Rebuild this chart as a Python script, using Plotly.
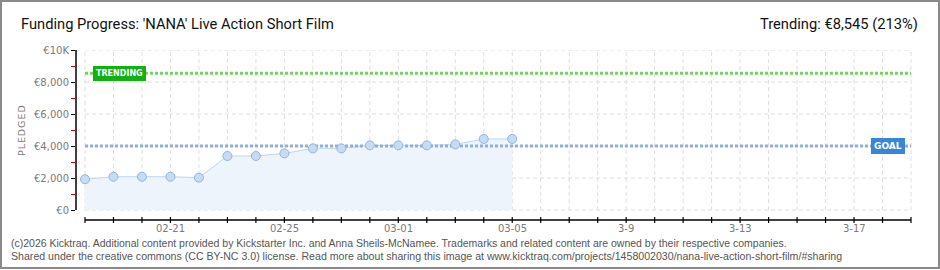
import pandas as pd
import plotly.graph_objects as go

# ---------------- data ----------------
dates = ["2026-02-18", "2026-02-19", "2026-02-20", "2026-02-21", "2026-02-22",
         "2026-02-23", "2026-02-24", "2026-02-25", "2026-02-26", "2026-02-27",
         "2026-02-28", "2026-03-01", "2026-03-02", "2026-03-03", "2026-03-04",
         "2026-03-05"]
pledged = [1920, 2080, 2080, 2080, 2020, 3375, 3375, 3540, 3850, 3850,
           4040, 4040, 4040, 4100, 4440, 4440]
goal = 4000
trending = 8545
trending_pct = 213
axis_start = "2026-02-18"
axis_end = "2026-03-19"
tick_dates = ["2026-02-21", "2026-02-25", "2026-03-01", "2026-03-05",
              "2026-03-09", "2026-03-13", "2026-03-17"]
tick_text = ["02-21", "02-25", "03-01", "03-05", "3-9", "3-13", "3-17"]
y_tickvals = [0, 2000, 4000, 6000, 8000, 10000]
y_ticktext = ["€0", "€2,000", "€4,000", "€6,000", "€8,000", "€10K"]
y_minor = [1000, 3000, 5000, 7000, 9000]
title = "Funding Progress: 'NANA' Live Action Short Film"
footer1 = ("(c)2026 Kicktraq. Additional content provided by Kickstarter Inc. and Anna Sheils-McNamee. "
           "Trademarks and related content are owned by their respective companies.")
footer2 = ("Shared under the creative commons (CC BY-NC 3.0) license. Read more about sharing this image at "
           "www.kicktraq.com/projects/1458002030/nana-live-action-short-film/#sharing")

# ---------------- layout geometry ----------------
W, H = 940, 270
L, R, T, B = 76, 915, 50, 224
PX_PER_UNIT = 160 / 10000          # 10K spans 160 px
Y_MAX = 10000
Y_MIN = -(B - T) / PX_PER_UNIT + Y_MAX
X_AXIS_Y = -10 / PX_PER_UNIT       # x axis line 10 px below zero


def xp(px):
    return (px - L) / (R - L)


def yp(py):
    return (B - py) / (B - T)


t0 = pd.Timestamp(axis_start)
t1 = pd.Timestamp(axis_end)
days_total = (t1 - t0).days
day_px = (911 - 85) / days_total
x_lo = t0 - pd.Timedelta(days=(85 - L) / day_px)
x_hi = t1 + pd.Timedelta(days=(R - 911) / day_px)
all_days = pd.date_range(t0, t1, freq="D")

GRID = "#dedede"
LABEL = "#7a7a7a"
TICKFONT = dict(family="DejaVu Sans", size=10, color=LABEL)

fig = go.Figure()

# area + line
fig.add_trace(go.Scatter(
    x=dates, y=pledged, mode="lines", fill="tozeroy",
    fillcolor="#edf4fc", line=dict(color="#bcd5f1", width=1),
    hoverinfo="skip", showlegend=False))

# goal & trending lines
fig.add_trace(go.Scatter(
    x=[t0, t1], y=[goal, goal], mode="lines",
    line=dict(color="#8eb0dc", width=3, dash="3px,2px"),
    hoverinfo="skip", showlegend=False))
fig.add_trace(go.Scatter(
    x=[t0, t1], y=[trending, trending], mode="lines",
    line=dict(color="#74d45a", width=3, dash="3px,2px"),
    hoverinfo="skip", showlegend=False))

# markers
fig.add_trace(go.Scatter(
    x=dates, y=pledged, mode="markers",
    marker=dict(size=9, color="#c6dcf5", line=dict(color="#93b3dc", width=1)),
    showlegend=False))

shapes = []
# vertical grid (each day)
for d in all_days:
    shapes.append(dict(type="line", xref="x", yref="y", x0=d, x1=d, y0=0, y1=10000,
                       line=dict(color=GRID, width=1, dash="4px,3px"), layer="below"))
# horizontal grid
for v in y_tickvals:
    shapes.append(dict(type="line", xref="x", yref="y", x0=t0, x1=t1, y0=v, y1=v,
                       line=dict(color=GRID, width=1, dash="4px,3px"), layer="below"))
# y axis line
shapes.append(dict(type="line", xref="paper", yref="y", x0=0, x1=0, y0=0, y1=10000,
                   line=dict(color="#000000", width=1.5)))
# x axis line
shapes.append(dict(type="line", xref="x", yref="y", x0=t0, x1=t1, y0=X_AXIS_Y, y1=X_AXIS_Y,
                   line=dict(color="#000000", width=1.5)))
# x ticks crossing the axis
for d in all_days:
    shapes.append(dict(type="line", xref="x", yref="y", x0=d, x1=d,
                       ysizemode="pixel", yanchor=X_AXIS_Y, y0=-3, y1=3,
                       line=dict(color="#000000", width=1.2)))
# frame
shapes.append(dict(type="rect", xref="paper", yref="paper",
                   x0=xp(1), x1=xp(939), y0=yp(268), y1=yp(1),
                   line=dict(color="#8a8a8a", width=2)))

HEAD = dict(family="Roboto, sans-serif", size=14.7, color="#111111")
annotations = [
    dict(text=title, xref="paper", yref="paper", x=xp(19), y=yp(24),
         xanchor="left", yanchor="middle", showarrow=False, font=HEAD),
    dict(text=f"Trending: €{trending:,} ({trending_pct}%)", xref="paper", yref="paper",
         x=xp(920), y=yp(24), xanchor="right", yanchor="middle", showarrow=False, font=HEAD),
    dict(text="\u200a".join("PLEDGED"), xref="paper", yref="paper", x=xp(21), y=yp(130),
         textangle=-90, showarrow=False, xanchor="center", yanchor="middle",
         font=dict(family="DejaVu Sans", size=9.5, color=LABEL)),
    dict(text="<b>TRENDING</b>", xref="paper", yref="y", x=xp(93), y=trending,
         xanchor="left", yanchor="middle", showarrow=False,
         bgcolor="#12b012", bordercolor="#12b012", borderpad=2, borderwidth=1,
         font=dict(family="DejaVu Sans", size=8, color="#ffffff")),
    dict(text="<b>GOAL</b>", xref="paper", yref="y", x=xp(871), y=goal,
         xanchor="left", yanchor="middle", showarrow=False,
         bgcolor="#3a86d6", bordercolor="#3a86d6", borderpad=2, borderwidth=1,
         font=dict(family="DejaVu Sans", size=9, color="#ffffff")),
    dict(text=footer1, xref="paper", yref="paper", x=xp(9), y=yp(243),
         xanchor="left", yanchor="middle", showarrow=False,
         font=dict(family="Liberation Sans", size=10.5, color="#555555")),
    dict(text=footer2, xref="paper", yref="paper", x=xp(9), y=yp(256),
         xanchor="left", yanchor="middle", showarrow=False,
         font=dict(family="Liberation Sans", size=10.6, color="#555555")),
]
# x tick labels placed under the axis line
for d, txt in zip(tick_dates, tick_text):
    annotations.append(dict(text=txt, xref="x", yref="paper", x=d, y=yp(228),
                            xanchor="center", yanchor="middle", showarrow=False,
                            font=TICKFONT))

fig.update_layout(
    width=W, height=H,
    margin=dict(l=L, r=W - R, t=T, b=H - B, pad=0),
    paper_bgcolor="#ffffff", plot_bgcolor="#ffffff",
    shapes=shapes, annotations=annotations,
    xaxis=dict(type="date", range=[x_lo, x_hi], showgrid=False, zeroline=False,
               showline=False, showticklabels=False, ticks=""),
    yaxis=dict(range=[Y_MIN, Y_MAX], showgrid=False, zeroline=False, showline=False,
               tickmode="array", tickvals=y_tickvals, ticktext=y_ticktext,
               ticks="outside", ticklen=4, tickcolor="#000000", tickwidth=1.2,
               tickfont=TICKFONT,
               minor=dict(tickmode="array", tickvals=y_minor, ticks="outside",
                          ticklen=4, tickcolor="#e00000", tickwidth=1.2, showgrid=False)),
    hovermode=False,
)

fig.write_html("out.html")
